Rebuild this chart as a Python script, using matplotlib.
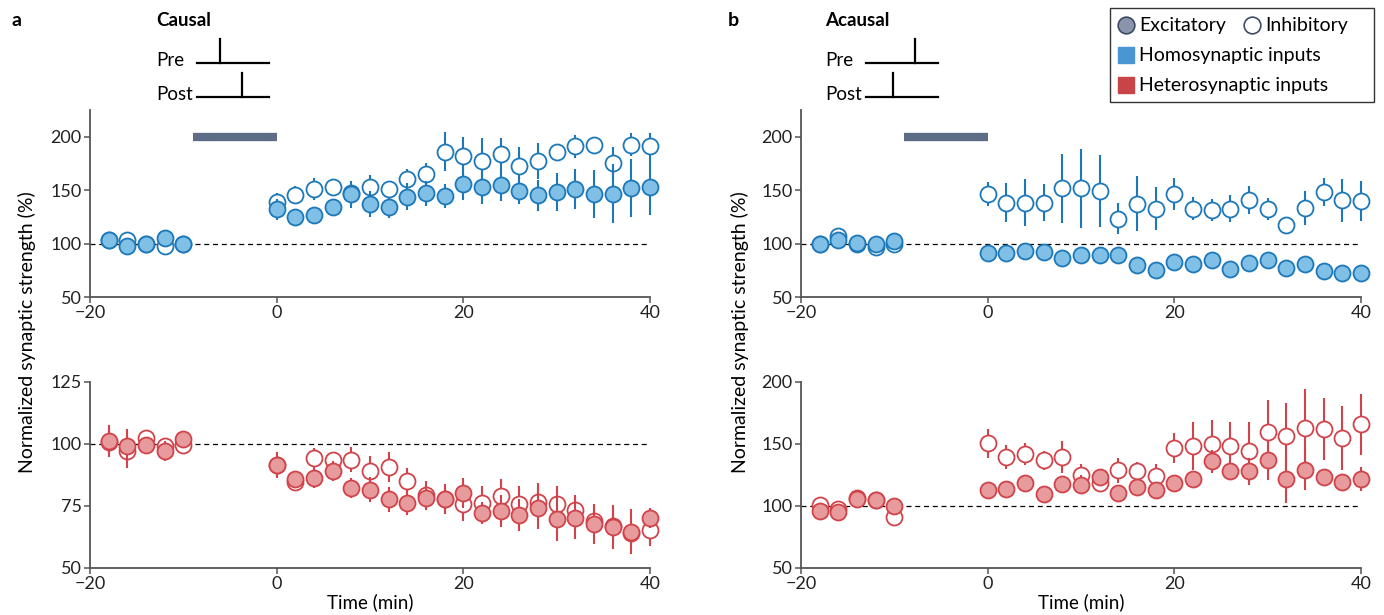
import matplotlib
matplotlib.use("Agg")
import matplotlib.pyplot as plt
from matplotlib.patches import Rectangle
from matplotlib.lines import Line2D

plt.rcParams['font.family'] = ['Lato', 'DejaVu Sans']

# ---------------- data ----------------
time = [-18, -16, -14, -12, -10, 0, 2, 4, 6, 8, 10, 12, 14, 16, 18, 20,
        22, 24, 26, 28, 30, 32, 34, 36, 38, 40]

# Panel a (causal) - homosynaptic
a_homo_exc = [103, 97.5, 100, 105, 100, 132, 125, 127, 134, 146, 137, 134, 144, 147,
              144.5, 156, 153, 154.5, 149.5, 145, 148.5, 151, 146, 146.5, 152, 153]
a_homo_exc_err = [3, 3, 3, 3, 3, 10, 5, 5, 6, 13, 12, 10, 12.5, 12, 11.5, 15, 15.5,
                  14.5, 12.5, 14.5, 18, 19, 22.5, 27.5, 27, 26]
a_homo_inh = [103, 103, 100, 97.5, 100, 139, 145.5, 151, 153, 147, 153, 151, 160, 165,
              186, 182, 177.5, 183.5, 173, 177.5, 186, 191, 192, 175, 192.5, 191.5]
a_homo_inh_err = [3, 3, 3, 3, 3, 8, 8, 10, 6, 8, 11, 7, 10, 10.5, 18, 18, 21, 15.5,
                  17, 17, 7, 11, 5, 15.5, 11, 12]

# Panel a (causal) - heterosynaptic
a_het_exc = [101.3, 99.2, 99.6, 97.3, 101.9, 91.6, 85.9, 86.3, 89, 82.3, 81.6, 77.7,
             76.3, 78.3, 77.7, 80.3, 72.3, 73, 71.3, 74.3, 69.7, 70.3, 67.7, 66.6, 64.6, 70.2]
a_het_exc_err = [6.5, 7, 3, 4, 3, 5.3, 3, 4, 4, 4, 5, 5, 5, 5, 6, 6, 4.5, 6.5, 6.5,
                 8.5, 9, 8.5, 8, 9, 9, 4]
a_het_inh = [100.9, 97.3, 102.3, 99.2, 99.6, 91.6, 84.6, 94.3, 93.6, 93.6, 89.2, 90.6,
             85, 79.3, 77.7, 75.9, 76.3, 79, 75.9, 76.6, 75.9, 73.4, 69, 67, 64, 65.4]
a_het_inh_err = [5, 7, 3, 3, 3, 4, 3, 4, 3, 5, 6, 6, 5.3, 5.7, 5, 7, 6.6, 7, 7.3, 7.7,
                 7, 6, 5, 5, 5, 6.4]

# Panel b (acausal) - homosynaptic
b_homo_exc = [100, 103, 100.6, 100, 102.5, 91.3, 91.3, 93, 92, 86.5, 89, 89, 89, 80.3,
              75, 82.8, 81.3, 85, 76.6, 82, 84.4, 77.2, 80.6, 74.4, 72, 72]
b_homo_exc_err = [3] * 26
b_homo_inh = [100, 107, 100, 97, 99.4, 146.3, 138.4, 138.4, 138.4, 151.6, 151.6, 149,
              123.4, 137.5, 132.8, 146.3, 132.8, 131.3, 132.8, 140.6, 132.8, 117, 133.4,
              148.4, 140.6, 139.7]
b_homo_inh_err = [2, 2, 2, 2, 2, 11.5, 18, 22, 17.5, 32, 37, 33.5, 14.5, 26, 19.7, 15,
                  10.7, 10.5, 12.7, 13, 10.3, 3, 16, 13, 20, 19]

# Panel b (acausal) - heterosynaptic
b_het_exc = [96, 95.2, 105.3, 104.8, 100, 112.8, 113.8, 118.6, 109.3, 117.8, 117.3,
             123.4, 110.1, 115.4, 113.3, 118.6, 121.8, 135.9, 128.5, 127.9, 136.7, 121.8,
             129.3, 123.4, 119.1, 121.8]
b_het_exc_err = [3, 3, 3, 3, 3, 4, 4, 4, 4, 4, 8, 5, 4, 4, 4, 4, 4, 9.6, 6, 10.6, 16,
                 19, 16.5, 5, 4, 10]
b_het_inh = [100.5, 97.3, 106.6, 104.8, 91.5, 150.5, 139.4, 142, 136.7, 139.4, 125.3,
             118.6, 128.7, 127.9, 123.9, 146.5, 148.4, 149.7, 148.4, 144.7, 159.8, 156.4,
             163, 162.5, 155, 166]
b_het_inh_err = [3, 3, 3, 3, 3, 11.5, 9.6, 9, 8, 13, 8.5, 5, 9.8, 7.2, 10, 12, 19, 20,
                 19.4, 23, 25.8, 26.6, 31.6, 25, 26, 24.5]

x_ticks = [-20, 0, 20, 40]
top_yticks = [50, 100, 150, 200]
a_bot_yticks = [50, 75, 100, 125]
b_bot_yticks = [50, 100, 150, 200]
pairing = [-9, 0]  # pairing period (min)

# ---------------- style ----------------
BLUE_E, BLUE_F = '#1c78b8', '#80bfe6'
RED_E, RED_F = '#d0434a', '#e89b9d'
BAR_C = '#5e6d86'
SPINE_C = '#555555'
TXT = 13.5

W, H = 1384, 615
fig = plt.figure(figsize=(W / 100, H / 100), dpi=100)


def fx(px):
    return px / W


def fy(py):
    return 1 - py / H


def make_ax(l, r, t, b):
    return fig.add_axes([fx(l), fy(b), fx(r) - fx(l), fy(t) - fy(b)])


def style_ax(ax, ylim, yticks):
    ax.set_xlim(-20, 40)
    ax.set_ylim(*ylim)
    ax.set_xticks(x_ticks)
    ax.set_yticks(yticks)
    for s in ['top', 'right']:
        ax.spines[s].set_visible(False)
    for s in ['left', 'bottom']:
        ax.spines[s].set_color(SPINE_C)
        ax.spines[s].set_linewidth(1.3)
    ax.tick_params(direction='out', length=4, width=1.1, color=SPINE_C,
                   labelsize=13, pad=2, labelcolor='#222222')
    ax.axhline(100, color='black', lw=0.9, ls=(0, (4, 3)), zorder=1)


def plot_series(ax, y, err, edge, face, filled, z):
    ax.errorbar(time, y, yerr=err, fmt='none', ecolor=edge, elinewidth=1.5,
                capsize=0, zorder=z, clip_on=False)
    ax.plot(time, y, 'o', ms=11.5, mec=edge, mew=1.3,
            mfc=face if filled else 'white', zorder=z + 0.5, clip_on=False, ls='none')


def pairing_bar(ax, yval):
    ax.plot(pairing, [yval, yval], color=BAR_C, lw=6, solid_capstyle='butt', zorder=2)


# Panel a
ax1 = make_ax(90, 650, 110, 297)
style_ax(ax1, (50, 225), top_yticks)
plot_series(ax1, a_homo_inh, a_homo_inh_err, BLUE_E, BLUE_F, False, 3)
plot_series(ax1, a_homo_exc, a_homo_exc_err, BLUE_E, BLUE_F, True, 5)
pairing_bar(ax1, 200)

ax2 = make_ax(90, 650, 382, 568)
style_ax(ax2, (50, 125), a_bot_yticks)
plot_series(ax2, a_het_inh, a_het_inh_err, RED_E, RED_F, False, 3)
plot_series(ax2, a_het_exc, a_het_exc_err, RED_E, RED_F, True, 5)
ax2.set_xlabel('Time (min)', fontsize=TXT, labelpad=1)

# Panel b
ax3 = make_ax(801, 1361, 110, 297)
style_ax(ax3, (50, 225), top_yticks)
plot_series(ax3, b_homo_inh, b_homo_inh_err, BLUE_E, BLUE_F, False, 3)
plot_series(ax3, b_homo_exc, b_homo_exc_err, BLUE_E, BLUE_F, True, 5)
pairing_bar(ax3, 200)

ax4 = make_ax(801, 1361, 382, 568)
style_ax(ax4, (50, 200), b_bot_yticks)
plot_series(ax4, b_het_inh, b_het_inh_err, RED_E, RED_F, False, 3)
plot_series(ax4, b_het_exc, b_het_exc_err, RED_E, RED_F, True, 5)
ax4.set_xlabel('Time (min)', fontsize=TXT, labelpad=1)

# shared y labels
for xp in (27, 740):
    fig.text(fx(xp), fy(332), 'Normalized synaptic strength (%)', rotation=90,
             ha='center', va='center', fontsize=14)

# panel letters and titles
fig.text(fx(12), fy(20), 'a', fontsize=14, fontweight='bold', va='center', ha='left')
fig.text(fx(728), fy(20), 'b', fontsize=14, fontweight='bold', va='center', ha='left')
fig.text(fx(156), fy(20), 'Causal', fontsize=TXT, fontweight='bold', va='center')
fig.text(fx(825), fy(20), 'Acausal', fontsize=TXT, fontweight='bold', va='center')


def timing(x0, label_x, pre_spike, post_spike):
    for lbl, yb, sp in (('Pre', 63, pre_spike), ('Post', 97, post_spike)):
        fig.text(fx(label_x), fy(yb - 2), lbl, fontsize=TXT, va='center', ha='left')
        fig.add_artist(Line2D([fx(x0), fx(x0 + 72)], [fy(yb), fy(yb)], color='black', lw=1.6))
        fig.add_artist(Line2D([fx(sp), fx(sp)], [fy(yb), fy(yb - 24)], color='black', lw=1.6))


timing(197, 156, 220, 242)
timing(866, 825, 915, 893)

# legend box
fig.add_artist(Rectangle((fx(1110), fy(102)), fx(1374) - fx(1110), fy(8) - fy(102),
                         transform=fig.transFigure, fill=False, ec='#333333', lw=1.0))
fig.add_artist(Line2D([fx(1126)], [fy(25)], marker='o', ms=12, mfc='#8a94ad',
                      mec='#3f4a66', mew=1.2, ls='none'))
fig.text(fx(1139), fy(25), 'Excitatory', fontsize=14, va='center')
fig.add_artist(Line2D([fx(1252)], [fy(25)], marker='o', ms=12, mfc='white',
                      mec='#3f4a66', mew=1.2, ls='none'))
fig.text(fx(1265), fy(25), 'Inhibitory', fontsize=14, va='center')
fig.add_artist(Line2D([fx(1126)], [fy(55)], marker='s', ms=12, mfc='#4a96d2',
                      mec='#4a96d2', ls='none'))
fig.text(fx(1139), fy(55), 'Homosynaptic inputs', fontsize=14, va='center')
fig.add_artist(Line2D([fx(1126)], [fy(85)], marker='s', ms=12, mfc='#c94447',
                      mec='#c94447', ls='none'))
fig.text(fx(1139), fy(85), 'Heterosynaptic inputs', fontsize=14, va='center')

fig.savefig('out.png', dpi=100)
